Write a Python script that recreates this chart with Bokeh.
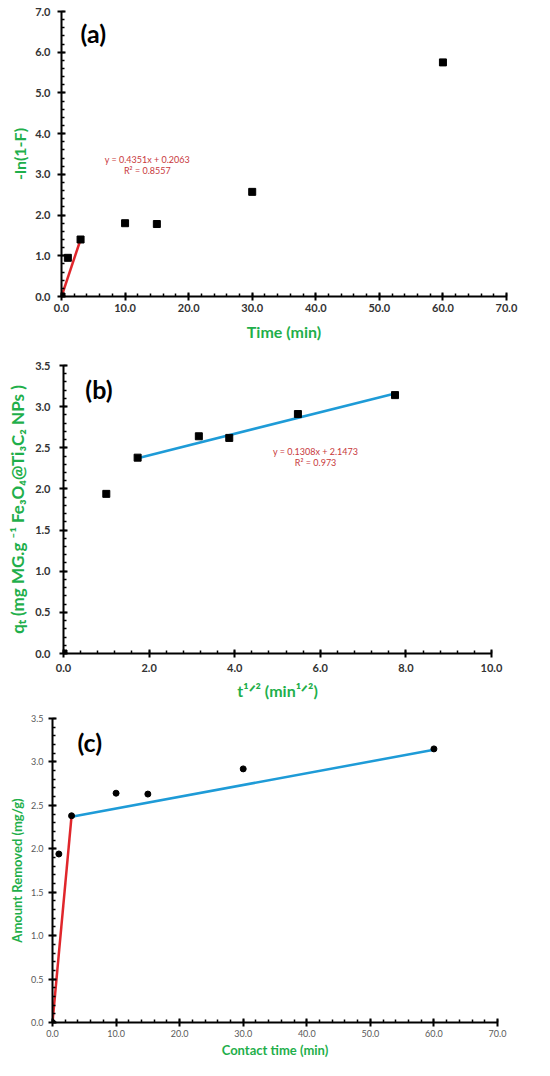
from bokeh.plotting import figure
from bokeh.layouts import column
from bokeh.models import Range1d, SingleIntervalTicker, NumeralTickFormatter, Label
from bokeh.embed import file_html
from bokeh.resources import INLINE

# ---------------- data ----------------
time_min = [0, 1, 3, 10, 15, 30, 60]
ln_term = [0.0, 0.95, 1.40, 1.80, 1.78, 2.57, 5.75]
red_a_x = [0, 3]
red_a_y = [0.0, 1.40]
eq_a = "y = 0.4351x + 0.2063"
r2_a = "R² = 0.8557"

sqrt_t = [0.0, 1.0, 1.732, 3.162, 3.873, 5.477, 7.746]
qt = [0.0, 1.94, 2.38, 2.64, 2.62, 2.91, 3.14]
slope_b, icpt_b = 0.1308, 2.1473
blue_b_x = [1.732, 7.746]
eq_b = "y = 0.1308x + 2.1473"
r2_b = "R² = 0.973"

contact_time = [0, 1, 3, 10, 15, 30, 60]
amount = [0.0, 1.94, 2.38, 2.64, 2.63, 2.92, 3.15]
red_c_x = [0, 3]
red_c_y = [0.0, 2.38]
blue_c_x = [3, 60]
blue_c_y = [2.37, 3.14]

GREEN = "#1FAF4B"
RED = "#E0262B"
EQ_RED = "#C8383C"
BLUE = "#1E9BD7"
FONT = "Lato"
W = 534


def style(p, xint, yint, tick_color, tick_size, tick_style, label_size):
    p.outline_line_color = None
    p.xgrid.grid_line_color = None
    p.ygrid.grid_line_color = None
    p.xaxis.ticker = SingleIntervalTicker(interval=xint, num_minor_ticks=5)
    p.yaxis.ticker = SingleIntervalTicker(interval=yint, num_minor_ticks=5)
    for ax in (p.xaxis, p.yaxis):
        ax.formatter = NumeralTickFormatter(format="0.0")
        ax.axis_line_width = 2
        ax.axis_line_color = "black"
        ax.major_tick_line_width = 2
        ax.major_tick_line_color = "black"
        ax.minor_tick_line_width = 1.5
        ax.minor_tick_line_color = "black"
        ax.major_tick_in = 4
        ax.major_tick_out = 4
        ax.minor_tick_in = 3
        ax.minor_tick_out = 0
        ax.major_label_text_font = FONT
        ax.major_label_text_font_size = tick_size
        ax.major_label_text_font_style = tick_style
        ax.major_label_text_color = tick_color
        ax.axis_label_text_font = FONT
        ax.axis_label_text_font_style = "bold"
        ax.axis_label_text_color = GREEN
        ax.axis_label_text_font_size = label_size
    try:
        p.frame_align = False
    except AttributeError:
        pass


# ---------------- panel (a) ----------------
pa = figure(width=W, height=344, output_backend="svg", toolbar_location=None,
            x_range=Range1d(0, 70), y_range=Range1d(0, 7),
            min_border_left=61, min_border_right=28, min_border_top=11, min_border_bottom=48)
style(pa, 10, 1, "#333333", "11px", "bold", "16px")
pa.xaxis.axis_label = "Time (min)"
pa.yaxis.axis_label = "-ln(1-F)"
pa.xaxis.major_label_standoff = 3
pa.yaxis.major_label_standoff = 7
pa.xaxis.axis_label_standoff = 7
pa.yaxis.axis_label_standoff = 3
pa.line(red_a_x, red_a_y, line_color=RED, line_width=2.5)
pa.scatter(time_min, ln_term, marker="square", size=7, color="black")
pa.add_layout(Label(x=3.0, y=6.46, text="(a)", text_font=FONT, text_font_style="bold",
                    text_font_size="25px", text_baseline="middle", text_color="black"))
pa.add_layout(Label(x=13.5, y=3.37, text=eq_a, text_font=FONT, text_font_size="9px",
                    text_align="center", text_baseline="middle", text_color=EQ_RED))
pa.add_layout(Label(x=13.5, y=3.10, text=r2_a, text_font=FONT, text_font_size="9px",
                    text_align="center", text_baseline="middle", text_color=EQ_RED))

# ---------------- panel (b) ----------------
pb = figure(width=W, height=360, output_backend="svg", toolbar_location=None,
            x_range=Range1d(0, 10), y_range=Range1d(0, 3.5),
            min_border_left=63, min_border_right=43, min_border_top=21, min_border_bottom=51)
style(pb, 2, 0.5, "#333333", "11px", "bold", "16px")
pb.xaxis.axis_label = "t¹ᐟ² (min¹ᐟ²)"
pb.yaxis.axis_label = "qₜ (mg MG.g ⁻¹ Fe₃O₄@Ti₃C₂ NPs )"
pb.yaxis.axis_label_text_font_size = "17px"
pb.xaxis.major_label_standoff = 6
pb.yaxis.major_label_standoff = 9
pb.xaxis.axis_label_standoff = 6
pb.yaxis.axis_label_standoff = 4
blue_b_y = [slope_b * x + icpt_b for x in blue_b_x]
pb.line(blue_b_x, blue_b_y, line_color=BLUE, line_width=2.5)
pb.scatter(sqrt_t, qt, marker="square", size=7, color="black")
pb.add_layout(Label(x=0.51, y=3.22, text="(b)", text_font=FONT, text_font_style="bold",
                    text_font_size="25px", text_baseline="middle", text_color="black"))
pb.add_layout(Label(x=5.89, y=2.46, text=eq_b, text_font=FONT, text_font_size="9px",
                    text_align="center", text_baseline="middle", text_color=EQ_RED))
pb.add_layout(Label(x=5.89, y=2.32, text=r2_b, text_font=FONT, text_font_size="9px",
                    text_align="center", text_baseline="middle", text_color=EQ_RED))

# ---------------- panel (c) ----------------
pc = figure(width=W, height=356, output_backend="svg", toolbar_location=None,
            x_range=Range1d(0, 70), y_range=Range1d(0, 3.5),
            min_border_left=52, min_border_right=37, min_border_top=14, min_border_bottom=36)
style(pc, 10, 0.5, "#595959", "9px", "normal", "13px")
pc.xaxis.axis_label = "Contact time (min)"
pc.yaxis.axis_label = "Amount Removed (mg/g)"
pc.xaxis.major_label_standoff = 3
pc.yaxis.major_label_standoff = 5
pc.xaxis.axis_label_standoff = 2
pc.yaxis.axis_label_standoff = 3
pc.line(red_c_x, red_c_y, line_color=RED, line_width=2.5)
pc.line(blue_c_x, blue_c_y, line_color=BLUE, line_width=2.5)
pc.scatter(contact_time, amount, marker="circle", size=6, color="black")
pc.add_layout(Label(x=3.93, y=3.23, text="(c)", text_font=FONT, text_font_style="bold",
                    text_font_size="25px", text_baseline="middle", text_color="black"))

layout = column(pa, pb, pc, spacing=0)
open("out.html", "w").write(file_html(layout, INLINE))
